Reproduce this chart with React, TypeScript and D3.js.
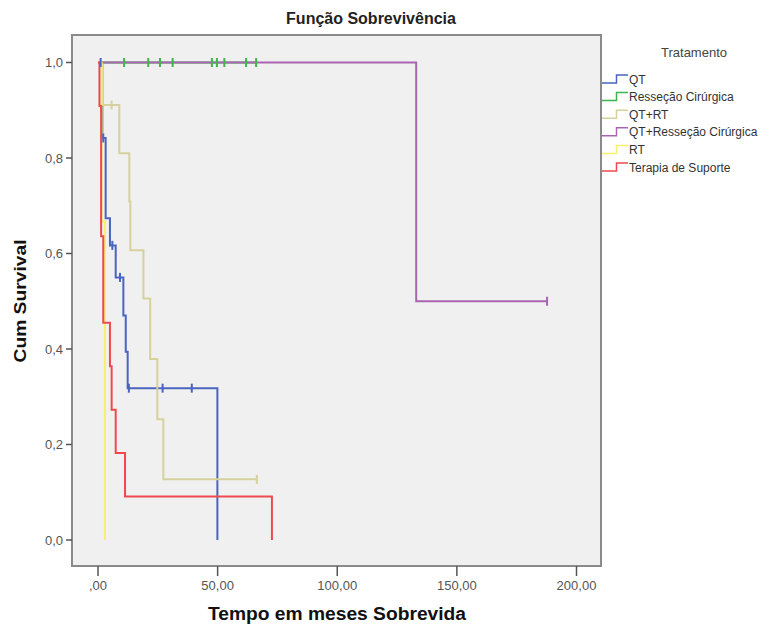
import React from "react";
import * as d3 from "d3";

// ---- data ----
const seriesNames = ["QT", "Resseção Cirúrgica", "QT+RT", "QT+Resseção Cirúrgica", "RT", "Terapia de Suporte"];
const seriesColors = ["#4a64c0", "#3cb54a", "#d6d19c", "#a866b0", "#f6f06e", "#ee4a4e"];

const qtTimes = [0, 1.8, 3.2, 5.0, 7.4, 10.6, 11.6, 12.4, 49.9];
const qtSurv = [1, 0.842, 0.674, 0.617, 0.55, 0.47, 0.394, 0.318, 0];
const qtCensor = [1.1, 2.2, 6.0, 9.2, 12.9, 27.0, 39.2];

const rcTimes = [0, 66.1];
const rcSurv = [1, 1];
const rcCensor = [10.9, 21.0, 25.9, 31.2, 47.6, 49.7, 52.8, 61.9, 66.1];

const qtrtTimes = [0, 2.1, 8.9, 13.1, 13.5, 19.0, 21.8, 24.8, 27.3, 66.4];
const qtrtSurv = [1, 0.911, 0.81, 0.709, 0.607, 0.506, 0.379, 0.253, 0.127, 0.127];
const qtrtCensor = [5.7, 66.4];

const qtrcTimes = [0, 133, 187.7];
const qtrcSurv = [1, 0.5, 0.5];
const qtrcCensor = [187.7];

const rtTimes = [0, 1.5, 2.9];
const rtSurv = [1, 0.667, 0];
const rtCensor: number[] = [];

const tsTimes = [0, 0.6, 1.3, 2.2, 5.0, 5.7, 7.4, 11.3, 72.7];
const tsSurv = [1, 0.909, 0.636, 0.455, 0.364, 0.273, 0.182, 0.091, 0];
const tsCensor: number[] = [];

const xTicks = [0, 50, 100, 150, 200];
const xTickLabels = [",00", "50,00", "100,00", "150,00", "200,00"];
const yTicks = [0, 0.2, 0.4, 0.6, 0.8, 1.0];
const yTickLabels = ["0,0", "0,2", "0,4", "0,6", "0,8", "1,0"];

const allSeries = [
  { times: qtTimes, surv: qtSurv, censor: qtCensor },
  { times: rcTimes, surv: rcSurv, censor: rcCensor },
  { times: qtrtTimes, surv: qtrtSurv, censor: qtrtCensor },
  { times: qtrcTimes, surv: qtrcSurv, censor: qtrcCensor },
  { times: rtTimes, surv: rtSurv, censor: rtCensor },
  { times: tsTimes, surv: tsSurv, censor: tsCensor },
];

function survAt(times: number[], surv: number[], t: number) {
  let s = surv[0];
  for (let i = 0; i < times.length; i++) if (times[i] <= t) s = surv[i];
  return s;
}

export default function App() {
  const W = 782, H = 625;
  const plot = { left: 72, top: 35, right: 601, bottom: 566 };
  const x = d3.scaleLinear().domain([0, 200]).range([98, 576.5]);
  const y = d3.scaleLinear().domain([0, 1]).range([540, 62.5]);
  const line = d3
    .line<[number, number]>()
    .x((d) => x(d[0]))
    .y((d) => y(d[1]))
    .curve(d3.curveStepAfter);

  const font = "'Liberation Sans', Arial, sans-serif";
  const legendY0 = 79;
  const legendStep = 17.6;

  return (
    <div style={{ position: "absolute", left: 0, top: 0 }}>
      <svg width={W} height={H} style={{ display: "block", background: "#fff" }}>
        <rect x={plot.left} y={plot.top} width={plot.right - plot.left} height={plot.bottom - plot.top}
          fill="#f0f0f0" stroke="#8a8a8a" strokeWidth={2} />

        {/* y axis */}
        {yTicks.map((v, i) => (
          <g key={"y" + i}>
            <line x1={66} x2={plot.left} y1={y(v)} y2={y(v)} stroke="#555" strokeWidth={1.5} />
            <text x={63} y={y(v) + 4.5} textAnchor="end" fontFamily={font} fontSize={13} fill="#555">
              {yTickLabels[i]}
            </text>
          </g>
        ))}
        {/* x axis */}
        {xTicks.map((v, i) => (
          <g key={"x" + i}>
            <line x1={x(v)} x2={x(v)} y1={plot.bottom} y2={576} stroke="#555" strokeWidth={1.5} />
            <text x={x(v)} y={590} textAnchor="middle" fontFamily={font} fontSize={13} fill="#555">
              {xTickLabels[i]}
            </text>
          </g>
        ))}

        {/* curves */}
        {allSeries.map((s, i) => {
          const pts: [number, number][] = s.times.map((t, j) => [t, s.surv[j]] as [number, number]);
          return (
            <path key={"c" + i} d={line(pts) || ""} fill="none" stroke={seriesColors[i]} strokeWidth={2} />
          );
        })}
        {/* censor marks */}
        {allSeries.map((s, i) =>
          s.censor.map((t, j) => {
            const sv = survAt(s.times, s.surv, t);
            return (
              <line key={"m" + i + "-" + j} x1={x(t)} x2={x(t)} y1={y(sv) - 4.5} y2={y(sv) + 4.5}
                stroke={seriesColors[i]} strokeWidth={2} />
            );
          })
        )}

        {/* titles */}
        <text x={371} y={24} textAnchor="middle" fontFamily={font} fontWeight="bold" fontSize={16} fill="#222">
          Função Sobrevivência
        </text>
        <text x={337} y={620} textAnchor="middle" fontFamily={font} fontWeight="bold" fontSize={18} fill="#111"
          textLength={258} lengthAdjust="spacingAndGlyphs">
          Tempo em meses Sobrevida
        </text>
        <text transform="translate(26,301) rotate(-90)" textAnchor="middle" fontFamily={font} fontWeight="bold"
          fontSize={17} fill="#111" textLength={123} lengthAdjust="spacingAndGlyphs">
          Cum Survival
        </text>

        {/* legend */}
        <text x={694} y={57} textAnchor="middle" fontFamily={font} fontSize={13} fill="#444">
          Tratamento
        </text>
        {seriesNames.map((n, i) => {
          const ly = legendY0 + i * legendStep;
          return (
            <g key={"l" + i}>
              <path d={`M602,${ly + 4}H616.5V${ly - 4}H628`} fill="none" stroke={seriesColors[i]} strokeWidth={1.5} />
              <text x={629} y={ly + 4.5} fontFamily={font} fontSize={12} fill="#333">
                {n}
              </text>
            </g>
          );
        })}
      </svg>
    </div>
  );
}
